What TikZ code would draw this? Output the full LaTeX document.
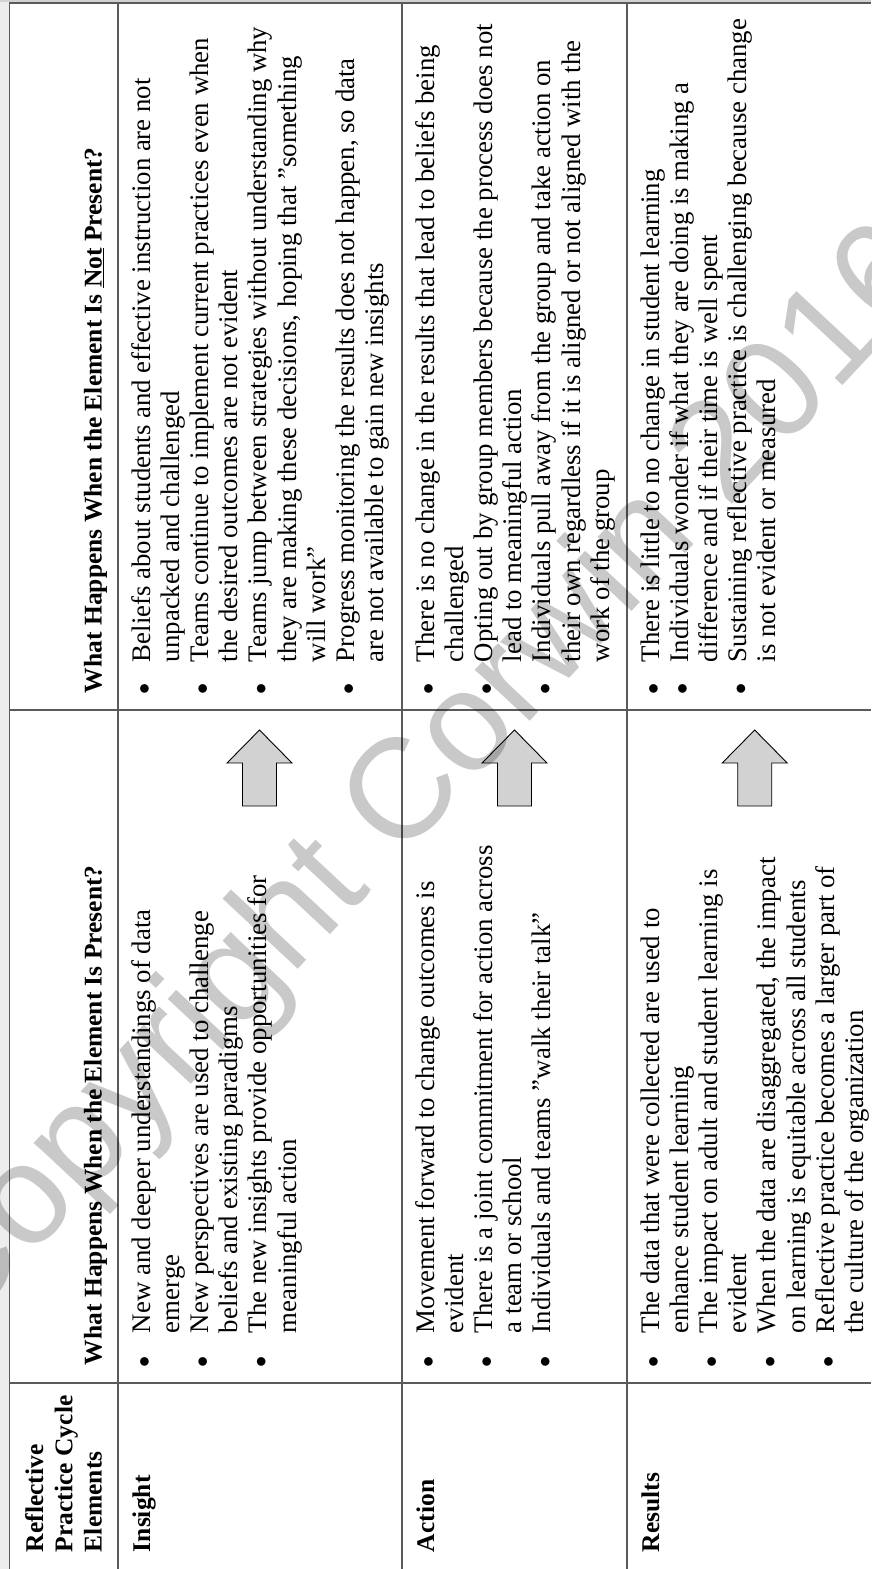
\documentclass[tikz,border=0pt]{standalone}
\usepackage{fontspec}
\setmainfont{Liberation Serif}
\newfontfamily\wmfont{Liberation Sans}
\definecolor{rulec}{HTML}{5A5A5A}
\definecolor{arrfill}{HTML}{D2D2D2}
\newlength\bw
\newcommand\bul{\scalebox{0.9}{$\bullet$}}
\newcommand\Lb[1]{\makebox[\bw][c]{\bul}#1\\}
\newcommand\Lc[1]{\hspace*{\bw}#1\\}
\newcommand\blockarr[1]{\draw[blockarrow] (#1,730) -- (#1+32.5,763) -- (#1+17,763) -- (#1+17,806) -- (#1-17,806) -- (#1-17,763) -- (#1-32.5,763) -- cycle;}
\tikzset{
  cell/.style={rotate=90, anchor=base west, inner sep=0pt, outer sep=0pt, font=\fontsize{26.8}{29.2}\selectfont},
  hcell/.style={cell, font=\fontsize{25.5}{29.2}\selectfont\bfseries},
  rulel/.style={draw=rulec, line width=1.6pt},
  blockarrow/.style={draw=black, line width=0.9pt, fill=arrfill, line join=miter},
}
\begin{document}
\begin{tikzpicture}[x=1pt,y=-1pt]
\useasboundingbox (0,0) rectangle (871,1569);
\fill[white] (0,0) rectangle (871,1569);
\fill[black!7] (0,0) rectangle (8.5,1569);
\fill[black!18] (0,0) rectangle (871,2.3);
% table rules
\draw[rulel] (9.5,1569) -- (9.5,3) -- (871,3);
\draw[rulel] (118,3) -- (118,1569);
\draw[rulel] (402,3) -- (402,1569);
\draw[rulel] (627,3) -- (627,1569);
\draw[rulel] (9.5,710) -- (871,710);
\draw[rulel] (9.5,1383) -- (871,1383);
% headers
\node[hcell] (hdrA) at (43.1,1552) {\begin{tabular}[t]{@{}l@{}}Reflective\\ Practice Cycle\\ Elements\end{tabular}};
\node[hcell] (hdrB) at (101.5,1365) {What Happens When the Element Is Present?};
\node[hcell] (hdrC) at (101.5,693) {What Happens When the Element Is \underline{Not} Present?};
% row labels
\node[hcell] (lblI) at (150,1552) {Insight};
\node[hcell] (lblA) at (434,1552) {Action};
\node[hcell] (lblR) at (659,1552) {Results};
% present column
\node[cell] (pI) at (150,1391) {\setlength\bw{58pt}\begin{tabular}[t]{@{}l@{}}
\Lb{New and deeper understandings of data}
\Lc{emerge}
\Lb{New perspectives are used to challenge}
\Lc{beliefs and existing paradigms}
\Lb{The new insights provide opportunities for}
\Lc{meaningful action}
\end{tabular}};
\node[cell] (pA) at (434,1391) {\setlength\bw{58pt}\begin{tabular}[t]{@{}l@{}}
\Lb{Movement forward to change outcomes is}
\Lc{evident}
\Lb{There is a joint commitment for action across}
\Lc{a team or school}
\Lb{Individuals and teams ''walk their talk''}
\end{tabular}};
\node[cell] (pR) at (659,1391) {\setlength\bw{58pt}\begin{tabular}[t]{@{}l@{}}
\Lb{The data that were collected are used to}
\Lc{enhance student learning}
\Lb{The impact on adult and student learning is}
\Lc{evident}
\Lb{When the data are disaggregated, the impact}
\Lc{on learning is equitable across all students}
\Lb{Reflective practice becomes a larger part of}
\Lc{the culture of the organization}
\end{tabular}};
% not present column
\node[cell] (nI) at (150,716) {\setlength\bw{54pt}\begin{tabular}[t]{@{}l@{}}
\Lb{Beliefs about students and effective instruction are not}
\Lc{unpacked and challenged}
\Lb{Teams continue to implement current practices even when}
\Lc{the desired outcomes are not evident}
\Lb{Teams jump between strategies without understanding why}
\Lc{they are making these decisions, hoping that ''something}
\Lc{will work''}
\Lb{Progress monitoring the results does not happen, so data}
\Lc{are not available to gain new insights}
\end{tabular}};
\node[cell] (nA) at (434,716) {\setlength\bw{54pt}\begin{tabular}[t]{@{}l@{}}
\Lb{There is no change in the results that lead to beliefs being}
\Lc{challenged}
\Lb{Opting out by group members because the process does not}
\Lc{lead to meaningful action}
\Lb{Individuals pull away from the group and take action on}
\Lc{their own regardless if it is aligned or not aligned with the}
\Lc{work of the group}
\end{tabular}};
\node[cell] (nR) at (659,716) {\setlength\bw{54pt}\begin{tabular}[t]{@{}l@{}}
\Lb{There is little to no change in student learning}
\Lb{Individuals wonder if what they are doing is making a}
\Lc{difference and if their time is well spent}
\Lb{Sustaining reflective practice is challenging because change}
\Lc{is not evident or measured}
\end{tabular}};
% arrows
\blockarr{259.5}
\blockarr{514.5}
\blockarr{754.7}
% watermark
\node[rotate=47, text=black, text opacity=0.21, inner sep=0pt, font=\wmfont\fontsize{142}{142}\selectfont] (wm) at (424,781) {Copyright Corwin 2016};
\end{tikzpicture}
\end{document}
